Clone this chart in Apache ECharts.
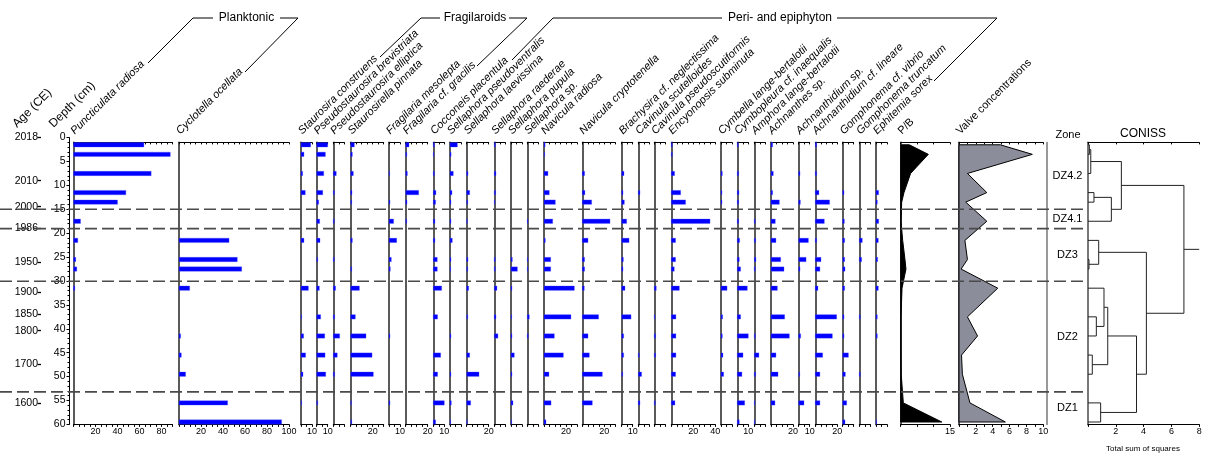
<!DOCTYPE html>
<html>
<head>
<meta charset="utf-8">
<script src="https://cdn.jsdelivr.net/npm/echarts@6/dist/echarts.min.js"></script>
<style>
  html, body { margin: 0; padding: 0; background: #fff; }
  #chart { width: 1207px; height: 454px; }
</style>
</head>
<body>
<div id="chart"></div>
<script>
// ---- Sample depths (cm) ----
const depths = [1.5, 3.5, 7.5, 11.5, 13.5, 17.5, 21.5, 25.5, 27.5, 31.5, 37.5, 41.5, 45.5, 49.5, 55.5, 59.5];

// ---- Age scale (depth of each age tick, and its label) ----
const ageDepths = [0, 9.0, 14.45, 19.0, 26.1, 32.4, 36.9, 40.4, 47.4, 55.5];
const ageLabels = ['2018', '2010', '2000', '1986', '1950', '1900', '1850', '1800', '1700', '1600'];

// ---- Relative abundances (%) per taxon, top to bottom ----
const puncticulataRadiosa = [64, 88, 70.6, 47.6, 40, 6.4, 3.9, 2.1, 3, 1.2, 0, 0, 0, 0, 0, 0];
const cyclotellaOcellata = [0, 0, 0, 0, 0, 0, 45.5, 53, 57, 9.7, 0, 1.5, 2.1, 6, 44.2, 93.3];
const staurosiraConstruens = [8.8, 2.7, 1.5, 3.9, 0, 0, 2.7, 0, 0, 6.7, 0.6, 2.4, 4.2, 1.8, 0.6, 0];
const pseudostaurosiraBrevistriata = [10, 7.9, 6.4, 5.5, 1.8, 2.7, 3, 0.9, 0, 2.4, 3.6, 7.3, 7.6, 8.2, 0.9, 0];
const pseudostaurosiraElliptica = [0, 0, 2.7, 1, 0, 0.9, 0, 0.9, 0, 2.1, 1.2, 5.8, 3.6, 1.2, 0, 0];
const staurosirellaPinnata = [3.3, 1.5, 2.4, 1.2, 0.9, 0, 1.5, 0, 0.9, 7.9, 4.2, 13.9, 19.4, 20.6, 0.6, 0.9];
const fragilariaMesolepta = [0, 0, 0.6, 0, 0.9, 4.2, 7, 2.1, 1.2, 0, 0, 0.9, 0, 0, 0.9, 0];
const fragilariaGracilis = [3, 1, 1.5, 11.8, 1.2, 0.9, 0, 0, 0, 0, 0, 0, 0, 0, 0, 0];
const cocconeisPlacentula = [1, 0.6, 1, 2.4, 2.1, 1.5, 1.5, 3.6, 3.6, 7.6, 3.9, 0, 6.7, 3.9, 10, 2.1];
const sellaphoraPseudoventralis = [6.7, 1, 3, 1.8, 0.9, 0.9, 2.1, 0.9, 0.6, 0, 0, 0.9, 0, 0.9, 1.2, 0.6];
const sellaphoraLaevissima = [0, 0, 1.2, 2.7, 0.9, 0.6, 0, 1.2, 0.9, 1.8, 0.9, 0, 2.7, 11.2, 3.6, 0.6];
const sellaphoraRaederae = [1, 0, 1.5, 1.2, 0.6, 0, 0, 0.9, 0.9, 2.4, 1.5, 3.3, 0, 0, 0, 0];
const sellaphoraPupula = [0, 0, 0, 0, 0, 0, 0, 1.2, 5.8, 0.9, 0.6, 0.9, 3, 0.9, 1.8, 0.6];
const sellaphoraSp = [0, 0, 0, 0, 0, 0.6, 0, 0.6, 0.6, 0, 1.8, 0.9, 0, 0, 0, 0];
const naviculaRadiosa = [1, 0.6, 3.6, 4.8, 10.3, 7.9, 1.2, 6.1, 6.1, 27.6, 24.5, 9.4, 17.6, 4.5, 6.4, 1.8];
const naviculaCryptotenella = [0, 0, 2.1, 2.4, 8.5, 25.2, 5.2, 2.1, 2.1, 1.8, 14.8, 5.2, 6.4, 18.2, 9.1, 0];
const brachysiraNeglectissima = [0, 0, 2.1, 1.2, 2.4, 4.5, 6.7, 1.5, 1.2, 3, 8.5, 1.8, 1.8, 0.9, 0, 0];
const cavinulaScutelloides = [0, 0, 0, 1.5, 0, 0, 0, 0, 0, 0, 0, 0, 0.9, 3, 1.5, 0];
const cavinulaPseudoscutiformis = [0, 0, 0, 0, 0, 0, 0, 0, 0, 1.8, 0.6, 1.2, 1.2, 0, 0.9, 0];
const encyonopsisSubminuta = [0.9, 0.9, 3, 8.5, 13, 35.2, 3.9, 3.9, 2.7, 7.3, 4.2, 4.2, 4.2, 3.9, 3.3, 0];
const cymbellaLangeBertalotii = [0, 0, 1.2, 0.9, 0.9, 0, 0, 0, 0, 5.5, 1.5, 1.2, 1.8, 2.4, 0, 0];
const cymbopleuraInaequalis = [0.9, 0, 1.2, 1.5, 1.2, 1.2, 2.1, 1.8, 3, 9.1, 3, 10, 5.2, 4.2, 6.7, 1.8];
const amphoraLangeBertalotii = [0, 0, 0, 0, 0, 0.9, 1.2, 1.5, 0.9, 0, 0, 0.9, 4.2, 1.2, 0.6, 0.6];
const achnanthesSp = [1.5, 0, 2.1, 1.5, 7.6, 3.9, 4.5, 8.8, 11.8, 5.8, 12.4, 16.7, 4.5, 6.4, 3.6, 0];
const achnanthidiumSp = [0, 0, 1.2, 0, 1.5, 0, 8.8, 6.7, 1.2, 0, 0, 1.8, 0, 0.9, 4.8, 0];
const achnanthidiumLineare = [1.2, 0, 1.2, 3.3, 13, 8.2, 1.2, 5.2, 4.2, 2.4, 19.4, 15.5, 6.7, 4.2, 4.2, 0];
const gomphonemaVibrio = [0, 0, 0, 1.2, 0, 1.5, 1.8, 1.8, 2.1, 1.8, 1.2, 1.2, 5.2, 2.4, 3.6, 2.1];
const gomphonemaTruncatum = [0, 0, 0, 0, 0, 0, 2.7, 2.1, 0, 0, 0.9, 0, 0, 0.9, 0, 0];
const ephitemiaSorex = [0, 0, 0, 2.4, 1.2, 2.4, 2.1, 1.5, 0, 2.1, 1.2, 1.2, 0, 0, 0, 0.6];

// ---- Summary curves ----
const planktonicBenthicRatio = [2.6, 8.4, 3.0, 1.0, 0.3, 0.1, 0.6, 1.3, 1.6, 0.4, 0.1, 0.1, 0.1, 0.15, 0.8, 12.5];
const valveConcentrations = [4.9, 8.7, 1.0, 3.3, 0.8, 3.3, 0.7, 1.0, 0.25, 4.6, 1.0, 2.2, 0.3, 0.4, 1.3, 5.5];

// ---- Zonation ----
const zoneBounds = [15.0, 19.05, 30.05, 53.2];
const zoneNames = ['DZ4.2', 'DZ4.1', 'DZ3', 'DZ2', 'DZ1'];

// CONISS merges: [childA, childB, height]; negative = sample number, positive = earlier merge number
const conissMerges = [
  [-1, -2, 0.1], [1, -3, 0.2], [-4, -5, 0.43], [3, -6, 1.68], [2, 4, 2.4],
  [-8, -9, 0.07], [-7, 6, 0.77], [-11, -12, 0.6], [-10, 8, 1.15], [-13, -14, 0.31],
  [9, 10, 1.42], [-15, -16, 0.91], [11, 12, 3.49], [7, 13, 4.2], [5, 14, 6.9]
];

// ---- Taxa, grouped ----
const taxa = [
  'Puncticulata radiosa', 'Cyclotella ocellata', 'Staurosira construens', 'Pseudostaurosira brevistriata',
  'Pseudostaurosira elliptica', 'Staurosirella pinnata', 'Fragilaria mesolepta', 'Fragilaria cf. gracilis',
  'Cocconeis placentula', 'Sellaphora pseudoventralis', 'Sellaphora laevissima', 'Sellaphora raederae',
  'Sellaphora pupula', 'Sellaphora sp.', 'Navicula radiosa', 'Navicula cryptotenella',
  'Brachysira cf. neglectissima', 'Cavinula scutelloides', 'Cavinula pseudoscutiformis', 'Encyonopsis subminuta',
  'Cymbella lange-bertalotii', 'Cymbopleura cf. inaequalis', 'Amphora lange-bertalotii', 'Achnanthes sp.',
  'Achnanthidium sp.', 'Achnanthidium cf. lineare', 'Gomphonema cf. vibrio', 'Gomphonema truncatum', 'Ephitemia sorex'
];
const taxonValues = [
  puncticulataRadiosa, cyclotellaOcellata, staurosiraConstruens, pseudostaurosiraBrevistriata,
  pseudostaurosiraElliptica, staurosirellaPinnata, fragilariaMesolepta, fragilariaGracilis,
  cocconeisPlacentula, sellaphoraPseudoventralis, sellaphoraLaevissima, sellaphoraRaederae,
  sellaphoraPupula, sellaphoraSp, naviculaRadiosa, naviculaCryptotenella,
  brachysiraNeglectissima, cavinulaScutelloides, cavinulaPseudoscutiformis, encyonopsisSubminuta,
  cymbellaLangeBertalotii, cymbopleuraInaequalis, amphoraLangeBertalotii, achnanthesSp,
  achnanthidiumSp, achnanthidiumLineare, gomphonemaVibrio, gomphonemaTruncatum, ephitemiaSorex
];
// percentage axis extent per taxon panel and the tick values that carry a label
const axisMax = [90, 100, 10, 10, 10, 30, 10, 20, 10, 10, 20, 10, 10, 10, 30, 30, 10, 10, 10, 40, 10, 10, 10, 20, 10, 20, 10, 10, 10];
const tickLabels = [[20, 40, 60, 80], [20, 40, 60, 80, 100], [10], [10], [], [20], [10], [20], [10], [], [20], [], [], [],
  [20], [20], [10], [], [], [20, 40], [], [10], [], [20], [10], [20], [], [], []];
const groups = ['Planktonic', 'Fragilaroids', 'Peri- and epiphyton'];

// ---- Layout ----
const FONT = '"Liberation Sans", Arial, Helvetica, sans-serif';
const PANEL_TOP = 142.4, PANEL_H = 282;      // depth 1 .. 60 cm
const AXIS_TOP = 137.6, AXIS_H = 286.8;      // depth 0 .. 60 cm
const PCT_PX = 1.1;                          // pixels per percent
const BAR_H = 4.4;
const panelLeft = [73.5, 179, 301, 316.7, 333.3, 350.7, 389, 405.7, 433.3, 450, 466.7, 494.3, 511, 527.3, 544,
  582.3, 621.7, 638.3, 654.3, 671.3, 721, 737.3, 754.3, 771, 798.7, 815.3, 842.7, 859.3, 876];

const grids = [], xAxis = [], yAxis = [], series = [], graphic = [];

function addPanel(opt) {
  const gi = grids.length;
  grids.push({ left: opt.left, top: opt.top, width: opt.width, height: opt.height });
  const xi = xAxis.length;
  const labelSet = opt.labels || [];
  xAxis.push({
    gridIndex: gi, type: 'value', position: 'bottom', min: opt.min || 0, max: opt.max, interval: opt.tick,
    show: opt.axes !== false,
    axisLine: { onZero: false, lineStyle: { color: '#000', width: 1 } },
    axisTick: { length: 2.5, lineStyle: { color: '#000', width: 1 } },
    axisLabel: { fontFamily: FONT, fontSize: 9, color: '#000', margin: 3,
      formatter: v => labelSet.indexOf(Math.round(v * 100) / 100) >= 0 ? String(v) : '' },
    splitLine: { show: false }
  });
  xAxis.push({
    gridIndex: gi, type: 'value', position: 'top', min: opt.min || 0, max: opt.max, interval: opt.topTick || opt.tick,
    show: opt.axes !== false,
    axisLine: { onZero: false, lineStyle: { color: '#000', width: 1 } },
    axisTick: { inside: true, length: 2, lineStyle: { color: '#000', width: 1 } },
    axisLabel: { show: false }, splitLine: { show: false }
  });
  const yi = yAxis.length;
  yAxis.push({
    gridIndex: gi, type: 'value', inverse: true, min: 1, max: 60,
    axisLine: { show: opt.leftLine !== false, onZero: false, lineStyle: { color: '#5a5a5a', width: 2 } },
    axisTick: { show: false }, axisLabel: { show: false }, splitLine: { show: false }
  });
  return { xi, yi };
}

function barItem(params, api) {
  const v = api.value(0);
  if (!(v > 0)) return null;
  const d = api.value(1);
  const a = api.coord([0, d]), b = api.coord([v, d]);
  return {
    type: 'rect',
    shape: { x: a[0], y: a[1] - BAR_H / 2, width: b[0] - a[0], height: BAR_H },
    style: { fill: '#0000ff', stroke: 'rgba(80,80,255,0.4)', lineWidth: 0.8 }
  };
}

function curveSeries(ax, values, fill) {
  return {
    type: 'custom', xAxisIndex: ax.xi, yAxisIndex: ax.yi, silent: true,
    data: values.map((v, k) => [v, depths[k]]),
    renderItem(params, api) {
      if (params.dataIndex !== 0) return null;
      const pts = [api.coord([0, depths[0]])];
      values.forEach((v, k) => pts.push(api.coord([v, depths[k]])));
      pts.push(api.coord([0, depths[depths.length - 1]]));
      return { type: 'polygon', shape: { points: pts }, style: { fill: fill, stroke: '#000', lineWidth: 1 } };
    }
  };
}

function slantLabel(x, text, italic, size) {
  graphic.push({
    type: 'text', x: x, y: 136.5, rotation: Math.PI / 4, silent: true,
    style: { text: text, font: (italic ? 'italic ' : '') + (size || 11) + 'px ' + FONT, fill: '#000',
      align: 'left', verticalAlign: 'bottom' }
  });
}

// ---- Taxon panels ----
taxa.forEach((name, i) => {
  const ax = addPanel({ left: panelLeft[i], top: PANEL_TOP, width: axisMax[i] * PCT_PX, height: PANEL_H,
    max: axisMax[i], tick: 5, labels: tickLabels[i] });
  series.push({
    type: 'custom', xAxisIndex: ax.xi, yAxisIndex: ax.yi, silent: true,
    data: taxonValues[i].map((v, k) => [v, depths[k]]), renderItem: barItem
  });
  slantLabel(panelLeft[i] + 3, name, true);
});

// ---- P/B ratio ----
const pbLeft = 900.7, pbMax = 15;
const pbAx = addPanel({ left: pbLeft, top: PANEL_TOP, width: pbMax * 3.29, height: PANEL_H, max: pbMax, tick: 5, labels: [15] });
series.push(curveSeries(pbAx, planktonicBenthicRatio, '#000'));
slantLabel(pbLeft + 3, 'P/B', false);

// ---- Valve concentrations ----
const vcLeft = 959, vcMax = 10;
const vcAx = addPanel({ left: vcLeft, top: PANEL_TOP, width: vcMax * 8.43, height: PANEL_H, max: vcMax, tick: 1, labels: [2, 4, 6, 8, 10] });
series.push(curveSeries(vcAx, valveConcentrations, '#8b8d9b'));
slantLabel(vcLeft + 3, 'Valve concentrations', false);

// ---- Zone column ----
const zoneAx = addPanel({ left: 1047, top: PANEL_TOP, width: 41, height: PANEL_H, max: 1, tick: 1, axes: false });
yAxis[zoneAx.yi].axisLine.lineStyle = { color: '#777', width: 1.5 };
const zoneEdges = [1].concat(zoneBounds, [60]);
series.push({
  type: 'custom', xAxisIndex: zoneAx.xi, yAxisIndex: zoneAx.yi, silent: true,
  data: zoneNames.map((n, k) => [0.5, (zoneEdges[k] + zoneEdges[k + 1]) / 2]),
  renderItem(params, api) {
    const p = api.coord([api.value(0), api.value(1)]);
    return { type: 'text', x: p[0], y: p[1],
      style: { text: zoneNames[params.dataIndex], font: '11px ' + FONT, fill: '#000',
        align: 'center', verticalAlign: 'middle', textAlign: 'center', textVerticalAlign: 'middle' } };
  }
});

// ---- CONISS dendrogram ----
const cnLeft = 1088, cnMax = 8;
const cnAx = addPanel({ left: cnLeft, top: PANEL_TOP, width: cnMax * 13.9, height: PANEL_H, max: cnMax, tick: 2, labels: [2, 4, 6, 8] });
yAxis[cnAx.yi].axisLine.lineStyle = { color: '#777', width: 2 };
const nodePos = [];
function nodeOf(ref) {
  return ref < 0 ? { y: depths[-ref - 1], h: 0 } : nodePos[ref - 1];
}
const conissSegments = conissMerges.map(m => {
  const a = nodeOf(m[0]), b = nodeOf(m[1]);
  nodePos.push({ y: (a.y + b.y) / 2, h: m[2] });
  return [a.h, a.y, m[2], b.y, b.h];
});
const root = nodePos[nodePos.length - 1];
series.push({
  type: 'custom', xAxisIndex: cnAx.xi, yAxisIndex: cnAx.yi, silent: true,
  data: conissSegments,
  renderItem(params, api) {
    const s = conissSegments[params.dataIndex];
    const pts = [api.coord([s[0], s[1]]), api.coord([s[2], s[1]]), api.coord([s[2], s[3]]), api.coord([s[4], s[3]])];
    const children = [{ type: 'polyline', shape: { points: pts }, style: { stroke: '#222', lineWidth: 1, fill: null } }];
    if (params.dataIndex === conissSegments.length - 1) {
      const p = api.coord([root.h, root.y]), q = api.coord([cnMax, root.y]);
      children.push({ type: 'line', shape: { x1: p[0], y1: p[1], x2: q[0], y2: q[1] }, style: { stroke: '#222', lineWidth: 1 } });
    }
    return { type: 'group', children: children };
  }
});

// ---- Zone boundary dashes across the diagram ----
const ovAx = addPanel({ left: 0, top: PANEL_TOP, width: 1087.5, height: PANEL_H, max: 1, tick: 1, axes: false, leftLine: false });
series.push({
  type: 'custom', xAxisIndex: ovAx.xi, yAxisIndex: ovAx.yi, silent: true, z: 10,
  data: zoneBounds.map(d => [0, d]),
  renderItem(params, api) {
    const d = api.value(1);
    const a = api.coord([0, d]), b = api.coord([1, d]);
    return { type: 'line', shape: { x1: a[0], y1: a[1], x2: b[0], y2: b[1] },
      style: { stroke: '#4a4a4a', lineWidth: 1.6, lineDash: [12, 5] } };
  }
});

// ---- Age axis ----
grids.push({ left: 41, top: AXIS_TOP, width: 1, height: AXIS_H });
xAxis.push({ gridIndex: grids.length - 1, type: 'value', show: false });
yAxis.push({
  gridIndex: grids.length - 1, type: 'value', inverse: true, min: 0, max: 60,
  axisLine: { show: false },
  axisTick: { show: true, length: 3.5, customValues: ageDepths, lineStyle: { color: '#000', width: 1.3 } },
  axisLabel: { customValues: ageDepths, fontFamily: FONT, fontSize: 10.5, color: '#000', margin: 3,
    formatter: v => { const k = ageDepths.indexOf(v); return k >= 0 ? ageLabels[k] : ''; } },
  splitLine: { show: false }
});

// ---- Depth axis ----
grids.push({ left: 69.5, top: AXIS_TOP, width: 1, height: AXIS_H });
xAxis.push({ gridIndex: grids.length - 1, type: 'value', show: false });
yAxis.push({
  gridIndex: grids.length - 1, type: 'value', inverse: true, min: 0, max: 60, interval: 5,
  axisLine: { show: true, lineStyle: { color: '#000', width: 1 } },
  axisTick: { show: true, length: 3, lineStyle: { color: '#000' } },
  minorTick: { show: true, splitNumber: 5, length: 2, lineStyle: { color: '#000' } },
  axisLabel: { fontFamily: FONT, fontSize: 10.5, color: '#000', margin: 4 },
  splitLine: { show: false }
});

// ---- Headings ----
graphic.push({ type: 'text', x: 19, y: 130, rotation: Math.PI / 4, silent: true,
  style: { text: 'Age (CE)', font: '12px ' + FONT, fill: '#000', align: 'left', verticalAlign: 'bottom' } });
graphic.push({ type: 'text', x: 55.5, y: 130, rotation: Math.PI / 4, silent: true,
  style: { text: 'Depth (cm)', font: '12px ' + FONT, fill: '#000', align: 'left', verticalAlign: 'bottom' } });
graphic.push({ type: 'text', x: 1068, y: 135, silent: true,
  style: { text: 'Zone', font: '11px ' + FONT, fill: '#000', align: 'center', verticalAlign: 'middle' } });
graphic.push({ type: 'text', x: 1143, y: 134, silent: true,
  style: { text: 'CONISS', font: '12px ' + FONT, fill: '#000', align: 'center', verticalAlign: 'middle' } });
graphic.push({ type: 'text', x: 1143, y: 449, silent: true,
  style: { text: 'Total sum of squares', font: '8px ' + FONT, fill: '#000', align: 'center', verticalAlign: 'middle' } });

// group brackets
const bracketLines = [
  [[148, 63], [193, 18], [213, 18]], [[280, 18], [298, 18], [245, 72]],
  [[380, 57], [421, 18], [440, 18]], [[509, 18], [527, 18], [477, 66]],
  [[512, 60], [553, 18], [722, 18]], [[837, 18], [997, 18], [934, 81]]
];
bracketLines.forEach(pts => graphic.push({ type: 'polyline', silent: true,
  shape: { points: pts }, style: { stroke: '#000', lineWidth: 1, fill: null } }));
const groupTitleX = [246.5, 475, 780];
groups.forEach((g, k) => graphic.push({ type: 'text', x: groupTitleX[k], y: 18, silent: true,
  style: { text: g, font: '12px ' + FONT, fill: '#000', align: 'center', verticalAlign: 'middle' } }));

const chart = echarts.init(document.getElementById('chart'), null, { renderer: 'canvas' });
chart.setOption({
  animation: false,
  backgroundColor: '#fff',
  grid: grids,
  xAxis: xAxis,
  yAxis: yAxis,
  series: series,
  graphic: graphic
});
</script>
</body>
</html>
